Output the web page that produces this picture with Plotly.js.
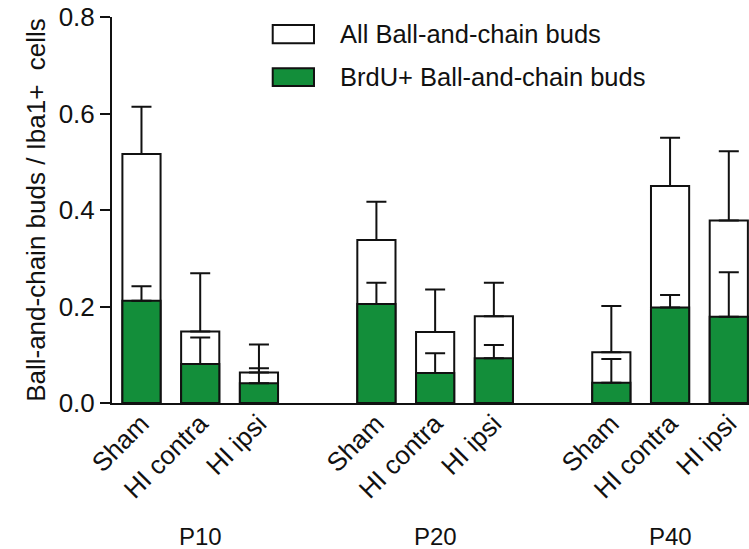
<!DOCTYPE html>
<html>
<head>
<meta charset="utf-8">
<script src="https://cdn.plot.ly/plotly-3.0.1.min.js"></script>
<style>html,body{margin:0;padding:0;background:#fff;}#chart{width:749px;height:549px;}</style>
</head>
<body>
<div id="chart"></div>
<script>
// ---- data ----
var groups = ["P10", "P20", "P40"];
var conditions = ["Sham", "HI contra", "HI ipsi"];
var seriesNames = ["All Ball-and-chain buds", "BrdU+ Ball-and-chain buds"];
var allBuds    = [0.516, 0.148, 0.063, 0.338, 0.147, 0.180, 0.105, 0.450, 0.378];
var allBudsErr = [0.098, 0.121, 0.058, 0.079, 0.088, 0.069, 0.096, 0.100, 0.144];
var brduBuds    = [0.212, 0.081, 0.041, 0.205, 0.062, 0.093, 0.042, 0.198, 0.179];
var brduBudsErr = [0.030, 0.055, 0.031, 0.044, 0.041, 0.027, 0.049, 0.026, 0.092];
var yTicks = [0, 0.2, 0.4, 0.6, 0.8];
var yTickText = ["0.0", "0.2", "0.4", "0.6", "0.8"];

// ---- positions (groups separated by one empty slot) ----
var xPos = [], tickText = [], groupCenters = [];
groups.forEach(function (g, gi) {
  conditions.forEach(function (c, ci) {
    xPos.push(gi * (conditions.length + 1) + ci);
    tickText.push(c);
  });
  groupCenters.push(gi * (conditions.length + 1) + (conditions.length - 1) / 2);
});
var zeros = allBuds.map(function () { return 0; });

var FONT = "Liberation Sans, Arial, Helvetica, sans-serif";
var GREEN = "#138E3A";

var traces = [
  {
    type: "bar", x: xPos, y: allBuds, name: seriesNames[0], width: 0.65,
    marker: { color: "#ffffff", line: { color: "#111", width: 2 } },
    error_y: { type: "data", symmetric: false, array: allBudsErr, arrayminus: zeros,
               color: "#111", thickness: 2, width: 10 },
    showlegend: false
  },
  {
    type: "bar", x: xPos, y: brduBuds, name: seriesNames[1], width: 0.65,
    marker: { color: GREEN, line: { color: "#111", width: 2 } },
    error_y: { type: "data", symmetric: false, array: brduBudsErr, arrayminus: zeros,
               color: "#111", thickness: 2, width: 10 },
    showlegend: false
  }
];

var annotations = groups.map(function (g, i) {
  return { x: groupCenters[i], y: -0.347, xref: "x", yref: "paper", text: g,
           showarrow: false, xanchor: "center", yanchor: "middle",
           font: { family: FONT, size: 24, color: "#111" } };
});
// manual legend
var legendRows = [
  { y0: 0.9319, y1: 0.9793, ty: 0.9547, color: "#ffffff" },
  { y0: 0.8212, y1: 0.8671, ty: 0.8433, color: GREEN }
];
var shapes = [];
legendRows.forEach(function (r, i) {
  shapes.push({ type: "rect", xref: "paper", yref: "paper", x0: 0.2523, x1: 0.3171,
                y0: r.y0, y1: r.y1, fillcolor: r.color, line: { color: "#111", width: 2 } });
  annotations.push({ x: 0.3548, y: r.ty, xref: "paper", yref: "paper", text: seriesNames[i],
                     showarrow: false, xanchor: "left", yanchor: "middle",
                     font: { family: FONT, size: 25.5, color: "#111" } });
});

var layout = {
  width: 749, height: 549,
  margin: { l: 112, r: 0, t: 17, b: 146 },
  paper_bgcolor: "#fff", plot_bgcolor: "#fff",
  barmode: "overlay",
  showlegend: false,
  font: { family: FONT, size: 24, color: "#111" },
  xaxis: {
    range: [-0.502, 10.344], tickmode: "array", tickvals: xPos, ticktext: tickText,
    tickangle: -45, ticks: "", showgrid: false, zeroline: false,
    showline: true, linecolor: "#111", linewidth: 2,
    ticklabelstandoff: -7,
    tickfont: { family: FONT, size: 26, color: "#111" }
  },
  yaxis: {
    range: [0, 0.8], tickmode: "array", tickvals: yTicks, ticktext: yTickText,
    ticks: "outside", ticklen: 10, tickwidth: 2, tickcolor: "#111",
    showgrid: false, zeroline: false, showline: true, linecolor: "#111", linewidth: 2,
    tickfont: { family: FONT, size: 26, color: "#111" },
    title: { text: "Ball-and-chain buds / Iba1+  cells", standoff: 6,
             font: { family: FONT, size: 26, color: "#111" } }
  },
  annotations: annotations,
  shapes: shapes
};

Plotly.newPlot("chart", traces, layout, { displayModeBar: false, staticPlot: true });
</script>
</body>
</html>
